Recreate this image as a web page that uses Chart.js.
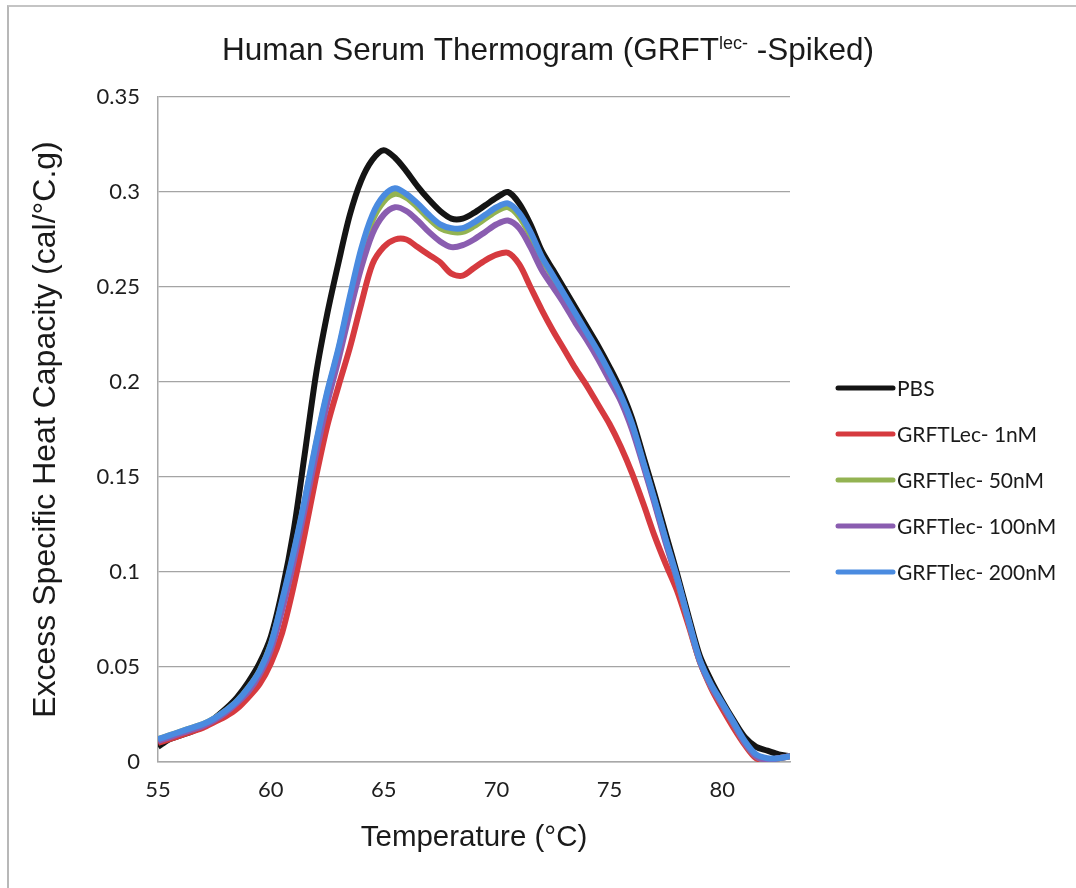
<!DOCTYPE html>
<html>
<head>
<meta charset="utf-8">
<title>Human Serum Thermogram</title>
<script src="https://cdn.jsdelivr.net/npm/chart.js@4.4.1/dist/chart.umd.min.js"></script>
<style>
  html, body { margin: 0; padding: 0; background: #fff; }
  #wrap { position: relative; width: 1076px; height: 888px; overflow: hidden; }
  #frame { position: absolute; left: 7px; top: 5px; width: 1200px; height: 1000px;
           border-left: 2px solid #b8b8b8; border-top: 2px solid #c4c4c4; }
  canvas { position: absolute; left: 0; top: 0; }
</style>
</head>
<body>
<div id="wrap">
  <div id="frame"></div>
  <canvas id="thermoChart" width="1076" height="888"></canvas>
</div>
<script>
// temperature (°C) sampled every 0.5 degree
const temps = [55, 55.5, 56, 56.5, 57, 57.5, 58, 58.5, 59, 59.5,
  60, 60.5, 61, 61.5, 62, 62.5, 63, 63.5, 64, 64.5,
  65, 65.5, 66, 66.5, 67, 67.5, 68, 68.5, 69, 69.5,
  70, 70.5, 71, 71.5, 72, 72.5, 73, 73.5, 74, 74.5,
  75, 75.5, 76, 76.5, 77, 77.5, 78, 78.5, 79, 79.5,
  80, 80.5, 81, 81.5, 82, 82.5, 83];

// excess specific heat capacity (cal/°C.g)
const pbs = [0.008, 0.012, 0.014, 0.016, 0.019, 0.023, 0.028, 0.034, 0.042, 0.052,
  0.066, 0.090, 0.121, 0.162, 0.204, 0.236, 0.263, 0.288, 0.306, 0.317,
  0.322, 0.318, 0.311, 0.303, 0.296, 0.290, 0.286, 0.286, 0.289, 0.293,
  0.297, 0.300, 0.294, 0.283, 0.269, 0.259, 0.249, 0.239, 0.229, 0.219,
  0.208, 0.196, 0.181, 0.161, 0.141, 0.120, 0.099, 0.077, 0.056, 0.043,
  0.032, 0.022, 0.013, 0.008, 0.006, 0.004, 0.003];

const grft1 = [0.010, 0.012, 0.014, 0.016, 0.018, 0.021, 0.024, 0.028, 0.034, 0.041,
  0.052, 0.068, 0.092, 0.120, 0.150, 0.177, 0.198, 0.218, 0.241, 0.262,
  0.271, 0.275, 0.275, 0.271, 0.267, 0.263, 0.257, 0.256, 0.260, 0.264,
  0.267, 0.268, 0.262, 0.250, 0.238, 0.227, 0.217, 0.207, 0.198, 0.188,
  0.178, 0.166, 0.152, 0.136, 0.119, 0.104, 0.090, 0.072, 0.053, 0.039,
  0.028, 0.018, 0.009, 0.002, 0.001, 0.002, 0.003];

const grft50 = [0.012, 0.014, 0.016, 0.018, 0.020, 0.023, 0.027, 0.032, 0.039, 0.048,
  0.062, 0.084, 0.109, 0.137, 0.167, 0.194, 0.217, 0.243, 0.267, 0.285,
  0.295, 0.299, 0.297, 0.292, 0.286, 0.281, 0.279, 0.279, 0.282, 0.286,
  0.290, 0.292, 0.287, 0.277, 0.265, 0.255, 0.245, 0.235, 0.225, 0.215,
  0.204, 0.192, 0.177, 0.157, 0.137, 0.116, 0.096, 0.074, 0.053, 0.040,
  0.030, 0.020, 0.010, 0.003, 0.001, 0.002, 0.003];

const grft100 = [0.011, 0.013, 0.015, 0.017, 0.019, 0.022, 0.026, 0.031, 0.037, 0.046,
  0.059, 0.080, 0.105, 0.133, 0.162, 0.189, 0.212, 0.237, 0.260, 0.278,
  0.288, 0.292, 0.290, 0.285, 0.279, 0.274, 0.271, 0.272, 0.275, 0.279,
  0.283, 0.285, 0.281, 0.271, 0.259, 0.250, 0.241, 0.231, 0.222, 0.212,
  0.201, 0.190, 0.175, 0.156, 0.136, 0.115, 0.096, 0.074, 0.053, 0.040,
  0.030, 0.020, 0.010, 0.003, 0.001, 0.002, 0.003];

const grft200 = [0.012, 0.014, 0.016, 0.018, 0.020, 0.023, 0.027, 0.032, 0.039, 0.048,
  0.062, 0.085, 0.110, 0.138, 0.168, 0.195, 0.218, 0.245, 0.270, 0.288,
  0.298, 0.302, 0.299, 0.294, 0.288, 0.283, 0.281, 0.281, 0.284, 0.288,
  0.292, 0.294, 0.289, 0.279, 0.266, 0.256, 0.246, 0.236, 0.226, 0.216,
  0.205, 0.193, 0.178, 0.158, 0.138, 0.117, 0.097, 0.075, 0.054, 0.041,
  0.031, 0.021, 0.011, 0.004, 0.002, 0.002, 0.003];

const seriesNames = ['PBS', 'GRFTLec- 1nM', 'GRFTlec- 50nM', 'GRFTlec- 100nM', 'GRFTlec- 200nM'];
const seriesColors = ['#141414', '#d63a3f', '#93b352', '#8a5db0', '#4a8be0'];

const xTicks = [55, 60, 65, 70, 75, 80];
const yTicks = [0, 0.05, 0.1, 0.15, 0.2, 0.25, 0.3, 0.35];

const titleParts = ['Human Serum Thermogram (GRFT', 'lec-', ' -Spiked)'];
const xTitle = 'Temperature (°C)';
const yTitle = 'Excess Specific Heat Capacity (cal/°C.g)';

const toPoints = vals => temps.map((t, i) => ({ x: t, y: vals[i] }));

// title with superscript + right side legend
const titleLegendPlugin = {
  id: 'titleLegend',
  afterDraw(chart) {
    const ctx = chart.ctx;
    ctx.save();
    const big = '31.5px "Liberation Sans"';
    const small = '18px "Liberation Sans"';
    const fonts = [big, small, big];
    const lifts = [0, 11, 0];
    let total = 0;
    const widths = titleParts.map((txt, i) => {
      ctx.font = fonts[i];
      const w = ctx.measureText(txt).width;
      total += w;
      return w;
    });
    let x = chart.width / 2 + 10 - total / 2;
    ctx.fillStyle = '#1a1a1a';
    ctx.textBaseline = 'alphabetic';
    titleParts.forEach((txt, i) => {
      ctx.font = fonts[i];
      ctx.fillText(txt, x, 60 - lifts[i]);
      x += widths[i];
    });

    // legend
    const x0 = chart.chartArea.right + 48;
    ctx.font = '21px Lato';
    ctx.textBaseline = 'middle';
    chart.data.datasets.forEach((ds, i) => {
      const y = 388 + i * 46;
      ctx.strokeStyle = ds.borderColor;
      ctx.lineWidth = 5;
      ctx.lineCap = 'round';
      ctx.beginPath();
      ctx.moveTo(x0, y);
      ctx.lineTo(x0 + 55, y);
      ctx.stroke();
      ctx.fillStyle = '#1a1a1a';
      ctx.fillText(ds.label, x0 + 59, y + 1);
    });
    ctx.restore();
  }
};

const allSeries = [pbs, grft1, grft50, grft100, grft200];

const ctx = document.getElementById('thermoChart').getContext('2d');
new Chart(ctx, {
  type: 'line',
  data: {
    datasets: allSeries.map((vals, i) => ({
      label: seriesNames[i],
      data: toPoints(vals),
      borderColor: seriesColors[i],
      backgroundColor: seriesColors[i],
      borderWidth: 6,
      pointRadius: 0,
      tension: 0.3,
      borderJoinStyle: 'round',
      order: allSeries.length - i
    }))
  },
  options: {
    responsive: false,
    animation: false,
    layout: { padding: { left: 10, right: 286, top: 97, bottom: 26 } },
    plugins: {
      legend: { display: false },
      title: { display: false },
      tooltip: { enabled: false }
    },
    scales: {
      x: {
        type: 'linear',
        min: 55,
        max: 83,
        afterBuildTicks: scale => { scale.ticks = xTicks.map(v => ({ value: v })); },
        afterFit: scale => { scale.height = 100; },
        grid: { display: false, drawTicks: false },
        border: { display: true, color: '#a8a8a8', width: 1.5 },
        ticks: {
          padding: 15,
          color: '#1e1e1e',
          font: { family: 'Lato', size: 22 },
          callback: v => String(v)
        },
        title: {
          display: true,
          text: xTitle,
          color: '#1a1a1a',
          font: { family: '"Liberation Sans"', size: 29.5 },
          padding: { top: 0, bottom: 6 }
        }
      },
      y: {
        min: 0,
        max: 0.35,
        afterBuildTicks: scale => { scale.ticks = yTicks.map(v => ({ value: v })); },
        afterFit: scale => { scale.width = 148; },
        grid: { color: '#a4a4a4', lineWidth: 1.2, drawTicks: false },
        border: { display: true, color: '#a8a8a8', width: 1.5 },
        ticks: {
          padding: 18,
          color: '#1e1e1e',
          font: { family: 'Lato', size: 22 },
          callback: v => String(Number(v.toFixed(2)))
        },
        title: {
          display: true,
          text: yTitle,
          color: '#1a1a1a',
          font: { family: '"Liberation Sans"', size: 32 },
          padding: { top: 17, bottom: 0 }
        }
      }
    }
  },
  plugins: [titleLegendPlugin]
});
</script>
</body>
</html>
